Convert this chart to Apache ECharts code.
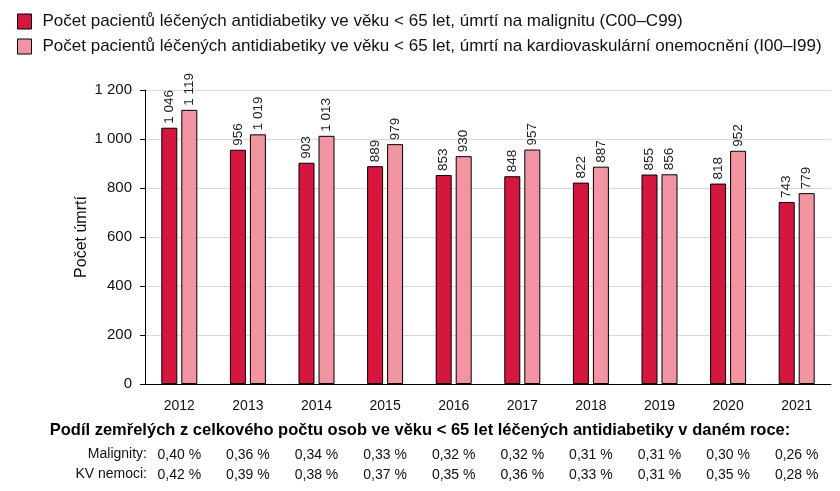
<!DOCTYPE html>
<html><head><meta charset="utf-8">
<script src="https://cdn.jsdelivr.net/npm/echarts@6/dist/echarts.min.js"></script>
<style>html,body{margin:0;padding:0;background:#fff}#c{width:840px;height:491px}</style>
</head><body><div id="c"></div>
<script>
const years = ['2012','2013','2014','2015','2016','2017','2018','2019','2020','2021'];
const malignity = [1046, 956, 903, 889, 853, 848, 822, 855, 818, 743];
const kardio = [1119, 1019, 1013, 979, 930, 957, 887, 856, 952, 779];
const podilMalignity = ['0,40 %','0,36 %','0,34 %','0,33 %','0,32 %','0,32 %','0,31 %','0,31 %','0,30 %','0,26 %'];
const podilKV = ['0,42 %','0,39 %','0,38 %','0,37 %','0,35 %','0,36 %','0,33 %','0,31 %','0,35 %','0,28 %'];
const seriesNames = ['Počet pacientů léčených antidiabetiky ve věku < 65 let, úmrtí na malignitu (C00–C99)',
  'Počet pacientů léčených antidiabetiky ve věku < 65 let, úmrtí na kardiovaskulární onemocnění (I00–I99)'];
const tableTitle = 'Podíl zemřelých z celkového počtu osob ve věku < 65 let léčených antidiabetiky v daném roce:';
const rowLabels = ['Malignity:', 'KV nemoci:'];

const FONT = 'Liberation Sans, sans-serif';
const fmt = v => { const s = String(v); return s.length > 3 ? s.slice(0, s.length-3) + ' ' + s.slice(-3) : s; };
const chart = echarts.init(document.getElementById('c'));
const lbl = {show:true, position:'top', rotate:90, align:'left', verticalAlign:'middle', distance:4,
  fontFamily:FONT, fontSize:13.5, color:'#222', formatter:p=>fmt(p.value)};
const hiddenAxis = (data, offset) => ({type:'category', data, position:'bottom', offset, gridIndex:0,
  axisLine:{show:false}, axisTick:{show:false},
  axisLabel:{fontFamily:FONT, fontSize:14, color:'#111', interval:0, margin:0}});
chart.setOption({
  animation:false,
  textStyle:{fontFamily:FONT},
  legend:{orient:'vertical', left:12, top:8, itemWidth:14, itemHeight:15, itemGap:8, icon:'rect',
    textStyle:{fontFamily:FONT, fontSize:17, color:'#111', padding:[0,0,0,6]},
    itemStyle:{borderColor:'#000', borderWidth:1}, data:seriesNames},
  grid:{left:145, right:9, top:90, bottom:107},
  xAxis:[
    {type:'category', data:years, axisLine:{lineStyle:{color:'#000'}},
     axisTick:{length:5, lineStyle:{color:'#000'}},
     axisLabel:{fontFamily:FONT, fontSize:14, color:'#111', margin:15}},
    hiddenAxis(podilMalignity, 64),
    hiddenAxis(podilKV, 84)
  ],
  yAxis:{type:'value', min:0, max:1200, interval:200,
    name:'Počet úmrtí', nameLocation:'middle', nameGap:55, nameRotate:90, nameMoveOverlap:false,
    nameTextStyle:{fontFamily:FONT, fontSize:16, color:'#111'},
    axisLine:{show:true, lineStyle:{color:'#000'}},
    axisTick:{show:true, length:5, lineStyle:{color:'#000'}},
    axisLabel:{fontFamily:FONT, fontSize:15, color:'#111', margin:13, formatter:v=>fmt(v)},
    splitLine:{lineStyle:{color:'#d9d9d9'}}},
  series:[
    {name:seriesNames[0], type:'bar', data:malignity, barWidth:16, barGap:'25%',
     itemStyle:{color:'#D5163F', borderColor:'#000', borderWidth:1}, label:lbl},
    {name:seriesNames[1], type:'bar', data:kardio, barWidth:16,
     itemStyle:{color:'#F294A2', borderColor:'#000', borderWidth:1}, label:lbl}
  ],
  graphic:[
    {type:'text', left:'center', top:422, style:{text:tableTitle, fontFamily:FONT, fontSize:16.5, fontWeight:'bold', fill:'#000'}},
    {type:'text', right:840-147, top:447, style:{text:rowLabels[0], fontFamily:FONT, fontSize:14, fill:'#111', textAlign:'right'}},
    {type:'text', right:840-147, top:467, style:{text:rowLabels[1], fontFamily:FONT, fontSize:14, fill:'#111', textAlign:'right'}}
  ]
});
</script></body></html>
